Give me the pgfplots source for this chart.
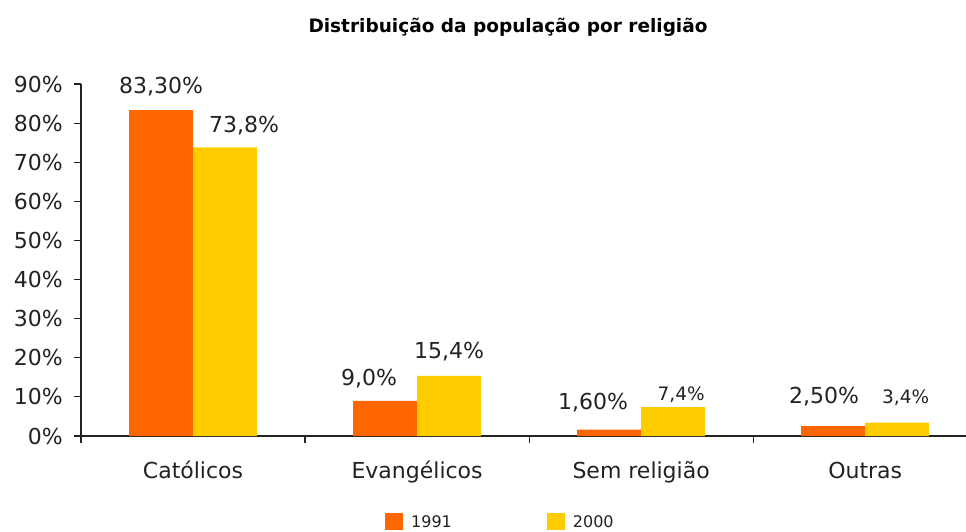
\documentclass[border=0pt]{standalone}
\usepackage{pgfplots}
\pgfplotsset{compat=1.18}
\usepackage{pgfplotstable}
\usepackage{fontspec}
\setmainfont{DejaVu Sans}
\definecolor{cA}{HTML}{FF6600}
\definecolor{cB}{HTML}{FFCC00}
\definecolor{axc}{HTML}{222222}

\pgfplotstableread{
x y label dx dy fs
0 83.3 83,30 0 17 22
1 9.0 9,0 -16 15.8 22
2 1.6 1,60 -16 20.7 22
3 2.5 2,50 -9 23.2 22
}\dataA
\pgfplotstableread{
x y label dx dy fs
0 73.8 73,8 19 14.4 22
1 15.4 15,4 0 16.8 22
2 7.4 7,4 8 7 18.5
3 3.4 3,4 8.5 19.7 18.5
}\dataB

\begin{document}
\begin{tikzpicture}[x=1bp,y=1bp]
\useasboundingbox (0,0) rectangle (966,-532);
\node[anchor=base, inner sep=0pt, font=\bfseries\fontsize{18.5bp}{18.5bp}\selectfont] at (508,-33) {Distribuição da população por religião};
\begin{axis}[
  at={(81bp,-436bp)}, anchor=south west,
  scale only axis, width=885bp, height=352bp,
  xmin=-0.5, xmax=3.45, ymin=0, ymax=90,
  enlargelimits=false, clip=false,
  axis lines=left,
  axis line style={-, axc, line width=1.2bp},
  tick align=outside, major tick length=7bp,
  tick style={axc, line width=1.2bp},
  ytick={0,10,20,30,40,50,60,70,80,90},
  yticklabels={0\%,10\%,20\%,30\%,40\%,50\%,60\%,70\%,80\%,90\%},
  yticklabel style={anchor=east, inner sep=0pt, xshift=-11bp, text=axc},
  xtick={-0.5,0.5,1.5,2.5}, xticklabels={},
  extra x ticks={0,1,2,3},
  extra x tick labels={Católicos,Evangélicos,Sem religião,Outras},
  extra x tick style={major tick length=0pt, xticklabel style={anchor=base, inner sep=0pt, yshift=-42bp, text=axc}},
  ticklabel style={font=\fontsize{22bp}{22bp}\selectfont},
  ybar=0pt, bar width=64bp,
  point meta=explicit symbolic,
  legend columns=2,
  legend style={draw=none, fill=none, inner sep=0pt, at={(axis description cs:0.3435,-0.244)}, anchor=west,
    font=\fontsize{16bp}{16bp}\selectfont, text=axc,
    /tikz/every odd column/.append style={column sep=6bp},
    /tikz/every even column/.append style={column sep=93bp}},
  legend image code/.code={\fill[#1] (0bp,-8.5bp) rectangle (18bp,8.5bp);},
]
\addplot[fill=cA, draw=none,
  visualization depends on={\thisrow{dx} \as \mydx},
  visualization depends on={\thisrow{dy} \as \mydy},
  visualization depends on={\thisrow{fs} \as \myfs},
  nodes near coords={\fontsize{\myfs bp}{\myfs bp}\selectfont\pgfplotspointmeta\%},
  nodes near coords style={anchor=base, inner sep=0pt, xshift=\mydx bp, yshift=\mydy bp, text=axc},
  ] table[x=x, y=y, meta=label] {\dataA};
\addplot[fill=cB, draw=none,
  visualization depends on={\thisrow{dx} \as \mydx},
  visualization depends on={\thisrow{dy} \as \mydy},
  visualization depends on={\thisrow{fs} \as \myfs},
  nodes near coords={\fontsize{\myfs bp}{\myfs bp}\selectfont\pgfplotspointmeta\%},
  nodes near coords style={anchor=base, inner sep=0pt, xshift=\mydx bp, yshift=\mydy bp, text=axc},
  ] table[x=x, y=y, meta=label] {\dataB};
\legend{1991,2000}
\end{axis}
\end{tikzpicture}
\end{document}
